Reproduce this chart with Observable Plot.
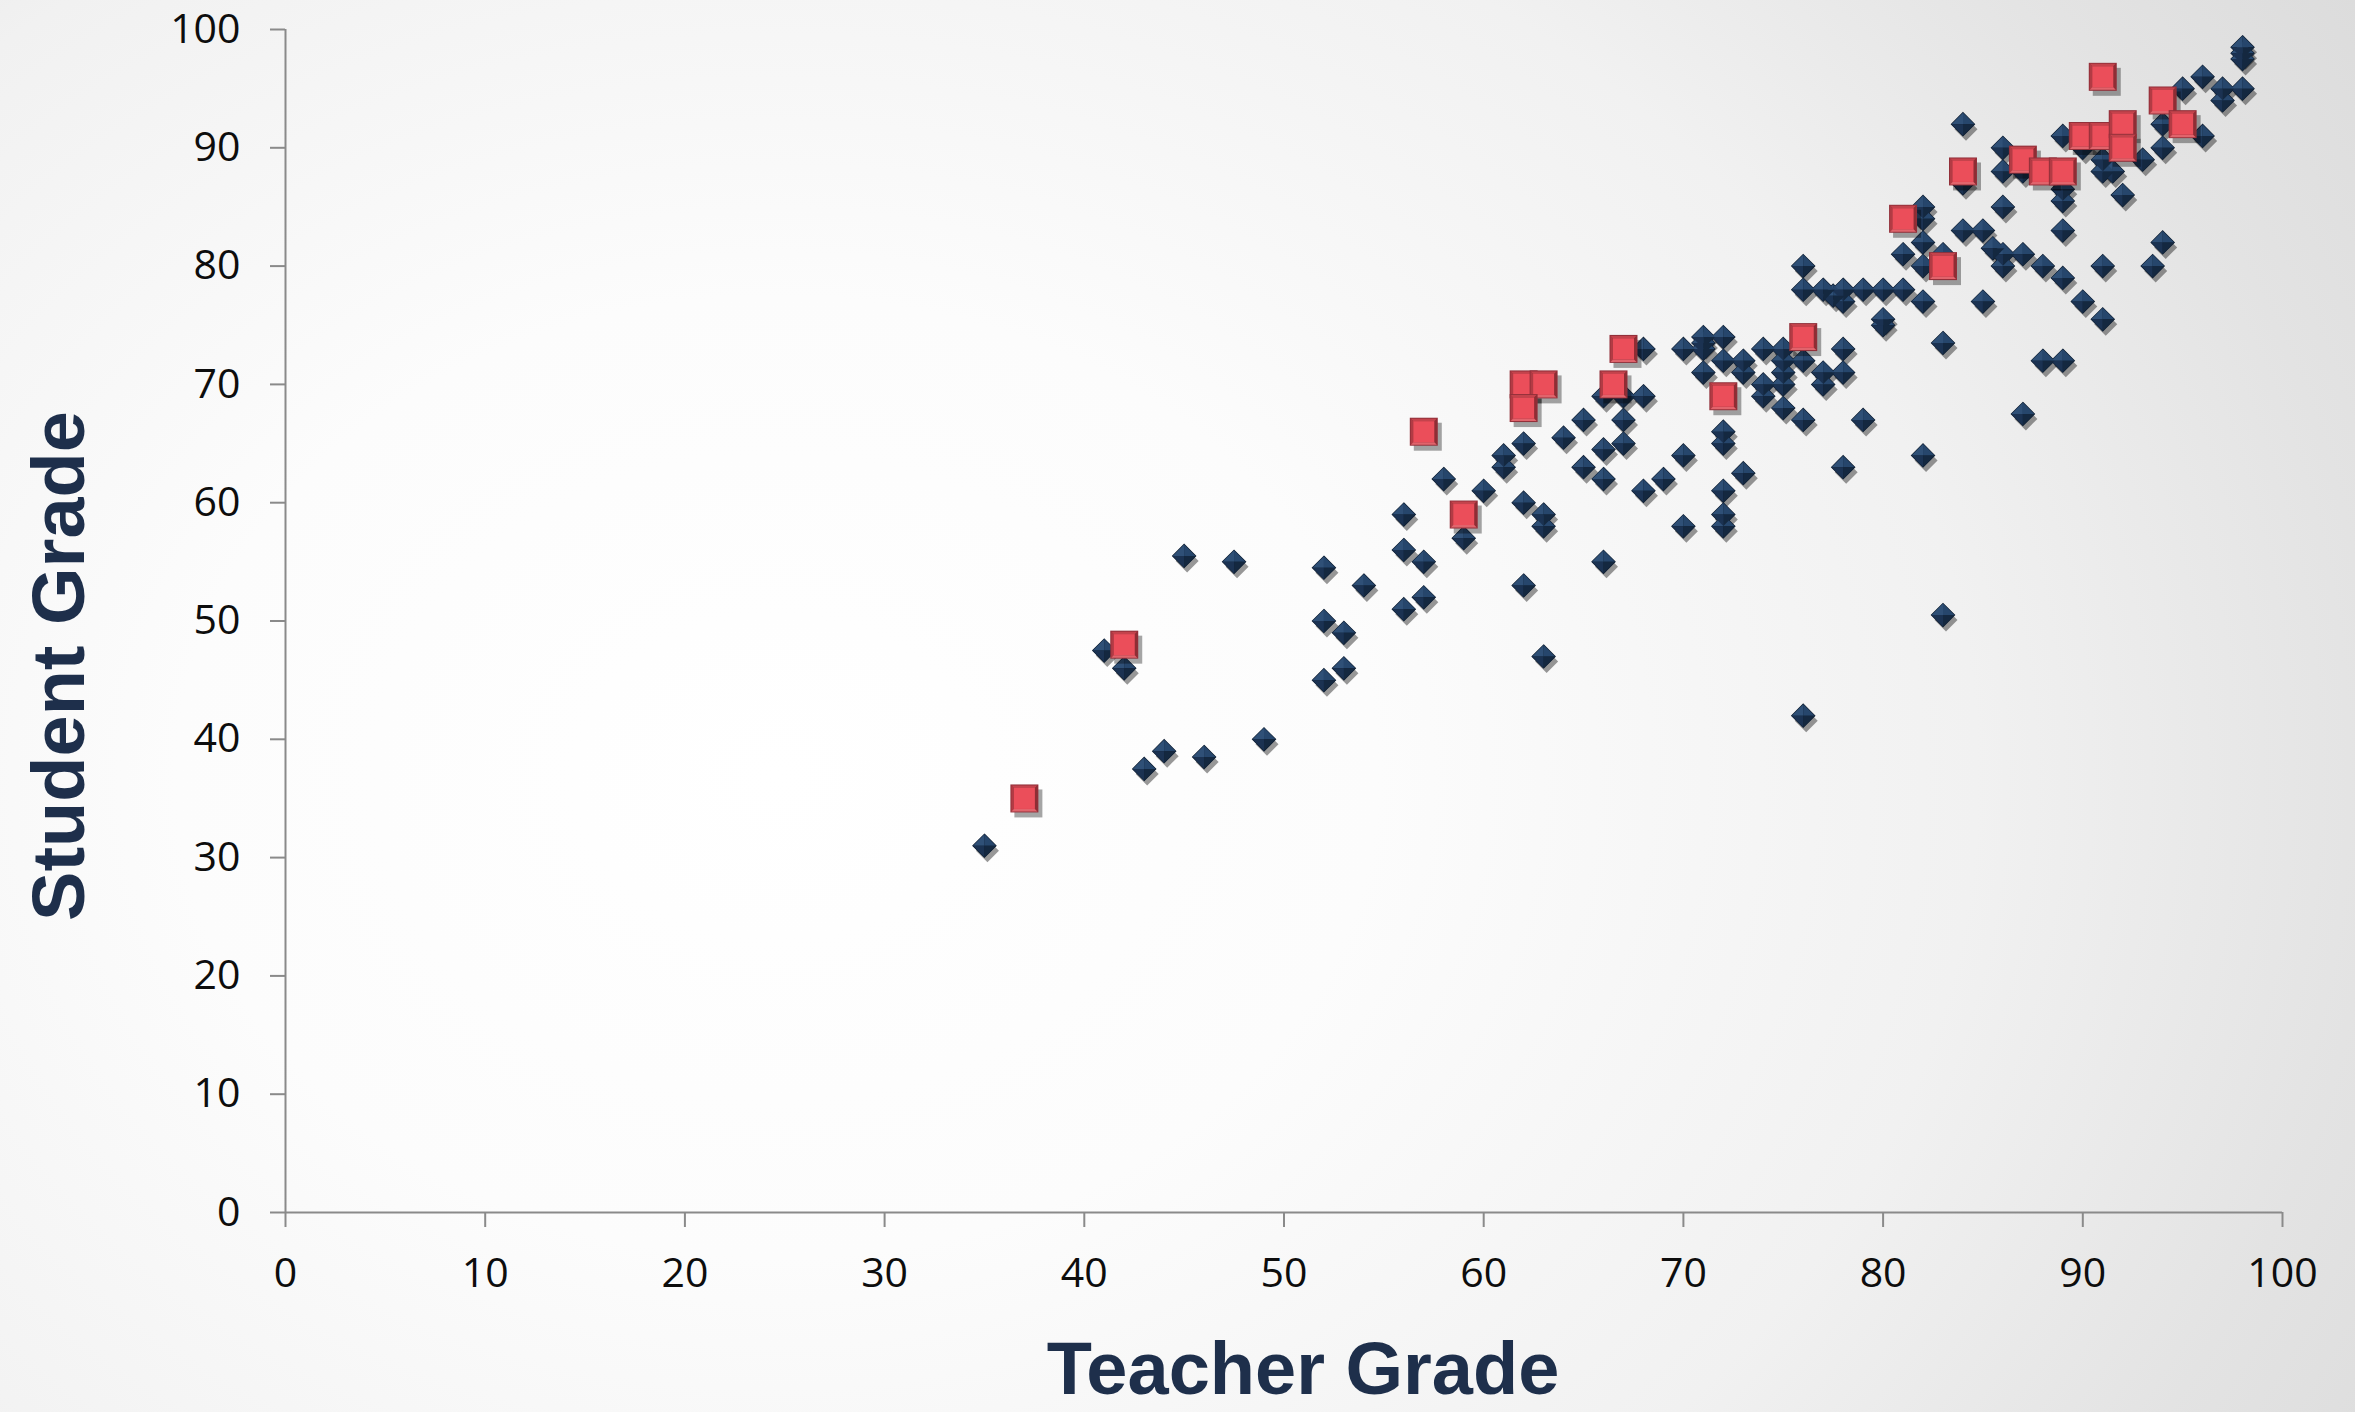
<!DOCTYPE html>
<html>
<head>
<meta charset="utf-8">
<script src="https://cdn.jsdelivr.net/npm/d3@7"></script>
<script src="https://cdn.jsdelivr.net/npm/@observablehq/plot@0.6"></script>
<style>
html, body { margin: 0; padding: 0; }
body {
  width: 2355px; height: 1412px; overflow: hidden;
  background: radial-gradient(2000px 1600px at 777px 777px, #ffffff 0%, #fcfcfc 30%, #f1f1f1 60%, #e3e3e3 80%, #d8d8d8 100%);
}
#chart { position: absolute; left: 0; top: 0; }
</style>
</head>
<body>
<div id="chart"></div>
<script>
// Teacher vs student grades – dark diamonds (all students)
const teacherBlue = [
  35, 41, 42, 43, 44, 45, 46, 47.5, 49,
  52, 52, 52, 53, 53, 54, 56, 56, 56, 57, 57, 58, 59,
  60, 61, 61, 62, 62, 62, 63, 63, 63, 64, 65, 65,
  66, 66, 66, 66, 67, 67, 67, 68, 68, 68, 69,
  70, 70, 70, 71, 71, 71, 71,
  72, 72, 72, 72, 72, 72, 72, 73, 73, 73,
  74, 74, 74, 75, 75, 75, 75, 75,
  76, 76, 76, 76, 76, 77, 77.5, 77, 77,
  78, 78, 78, 78, 78, 79, 79, 80, 80, 80, 81, 81,
  82, 82, 82, 82, 82, 82, 83, 83, 83,
  84, 84, 84, 85, 85, 85.5, 86, 86, 86, 86, 86,
  87, 87, 87, 88, 88, 89, 89, 89, 89, 89, 89,
  90, 90, 91, 91, 91.5, 91, 91, 92, 93, 93.5,
  94, 94, 94, 95, 96, 96, 97, 97, 98, 98, 98, 98
];
const studentBlue = [
  31, 47.5, 46, 37.5, 39, 55.5, 38.5, 55, 40,
  54.5, 50, 45, 49, 46, 53, 59, 56, 51, 55, 52, 62, 57,
  61, 64, 63, 65, 60, 53, 59, 58, 47, 65.5, 67, 63,
  69, 64.5, 62, 55, 69, 67, 65, 73, 69, 61, 62,
  73, 64, 58, 74, 73.5, 73, 71,
  74, 72, 66, 65, 61, 59, 58, 72, 71, 62.5,
  73, 70, 69, 73, 72, 71, 70, 68,
  80, 78, 72, 67, 42, 78, 77.5, 71, 70,
  78, 77, 73, 71, 63, 78, 67, 78, 75.5, 75, 78, 81,
  85, 84, 82, 80, 77, 64, 81, 73.5, 50.5,
  92, 87, 83, 83, 77, 81.5, 90, 88, 85, 81, 80,
  88, 81, 67.5, 80, 72, 91, 86.5, 85.5, 83, 79, 72,
  90, 77, 89, 88, 88, 80, 75.5, 86, 89, 80,
  92, 90, 82, 95, 96, 91, 95, 94, 98.5, 98, 97.5, 95
];
// Highlighted students – red squares
const teacherRed = [37, 42, 57, 59, 62, 63, 62, 66.5, 67, 72, 76, 81, 83, 84, 87, 88, 89, 90, 91, 91, 92, 92, 94, 95];
const studentRed = [35, 48, 66, 59, 70, 70, 68, 70, 73, 69, 74, 84, 80, 88, 89, 88, 88, 91, 91, 96, 92, 90, 94, 92];

const xTicks = [0, 10, 20, 30, 40, 50, 60, 70, 80, 90, 100];
const yTicks = [0, 10, 20, 30, 40, 50, 60, 70, 80, 90, 100];
const xTitle = "Teacher Grade";
const yTitle = "Student Grade";

const blue = teacherBlue.map((t, i) => ({teacher: t, student: studentBlue[i]}));
const red = teacherRed.map((t, i) => ({teacher: t, student: studentRed[i]}));

function poly(pts) {
  return {
    draw(ctx) {
      ctx.moveTo(pts[0][0], pts[0][1]);
      for (let i = 1; i < pts.length; ++i) ctx.lineTo(pts[i][0], pts[i][1]);
      ctx.closePath();
    }
  };
}
const h = 11.5;
const diamondFull = poly([[0, -h], [h, 0], [0, h], [-h, 0]]);
const facetTL = poly([[0, -h], [0, 0], [-h, 0]]);
const facetTR = poly([[0, -h], [h, 0], [0, 0]]);
const facetBL = poly([[-h, 0], [0, 0], [0, h]]);
const facetBR = poly([[h, 0], [0, h], [0, 0]]);

const so = 14, sb = 13, si = 10.5;
const sqOuter = poly([[-so, -so], [so, -so], [so, so], [-so, so]]);
const bevTop = poly([[-sb, -sb], [sb, -sb], [si, -si], [-si, -si]]);
const bevLeft = poly([[-sb, -sb], [-si, -si], [-si, si], [-sb, sb]]);
const bevRight = poly([[sb, -sb], [sb, sb], [si, si], [si, -si]]);
const bevBottom = poly([[-sb, sb], [-si, si], [si, si], [sb, sb]]);
const sqFace = poly([[-si, -si], [si, -si], [si, si], [-si, si]]);

const pos = {x: "teacher", y: "student", r: 6, stroke: "none"};

// each red square is drawn completely before the next one, so overlapping squares keep their edges
const redMarks = red.flatMap(d => [
  Plot.dot([d], {...pos, symbol: sqOuter, fill: "#000", fillOpacity: 0.35, dx: 4, dy: 5, ariaLabel: "shadow"}),
  Plot.dot([d], {...pos, symbol: sqOuter, fill: "#93303a"}),
  Plot.dot([d], {...pos, symbol: bevTop, fill: "#c4434c"}),
  Plot.dot([d], {...pos, symbol: bevLeft, fill: "#b23b44"}),
  Plot.dot([d], {...pos, symbol: bevRight, fill: "#8e2d34"}),
  Plot.dot([d], {...pos, symbol: bevBottom, fill: "#e1646c"}),
  Plot.dot([d], {...pos, symbol: sqFace, fill: "#eb4e5a"})
]);

const chart = Plot.plot({
  width: 2355,
  height: 1412,
  marginLeft: 285,
  marginRight: 73,
  marginTop: 29,
  marginBottom: 200,
  style: {background: "transparent", fontFamily: "'Open Sans', sans-serif", overflow: "visible"},
  x: {domain: [0, 100]},
  y: {domain: [0, 100]},
  marks: [
    Plot.ruleY([0], {stroke: "#8a8a8a", strokeWidth: 2}),
    Plot.ruleX([0], {stroke: "#8a8a8a", strokeWidth: 2}),
    Plot.axisX({ticks: xTicks, tickSize: 15, tickPadding: 30, stroke: "#8a8a8a", strokeWidth: 2, fill: "#0d0d0d", fontSize: 41, label: null, tickFormat: d => String(d)}),
    Plot.axisY({ticks: yTicks, tickSize: 15, tickPadding: 30, stroke: "#8a8a8a", strokeWidth: 2, fill: "#0d0d0d", fontSize: 41, label: null, tickFormat: d => String(d)}),
    // shadows
    Plot.dot(blue, {...pos, symbol: diamondFull, fill: "#000", fillOpacity: 0.4, dx: 3, dy: 5, ariaLabel: "shadow"}),
    // diamonds
    Plot.dot(blue, {...pos, symbol: diamondFull, fill: "#0f1e31", stroke: "#0f1e31", strokeWidth: 1.2}),
    Plot.dot(blue, {...pos, symbol: facetTL, fill: "#2f5077"}),
    Plot.dot(blue, {...pos, symbol: facetTR, fill: "#26466c"}),
    Plot.dot(blue, {...pos, symbol: facetBL, fill: "#1b3252"}),
    Plot.dot(blue, {...pos, symbol: facetBR, fill: "#142840"}),
    // red squares
    ...redMarks,
    // axis titles
    Plot.text([xTitle], {frameAnchor: "bottom", textAnchor: "middle", lineAnchor: "middle", dx: 19, dy: 158,
      fontSize: 74, fontWeight: "bold", fontFamily: "'Liberation Sans', Arial, sans-serif", fill: "#1e2f4b"}),
    Plot.text([yTitle], {frameAnchor: "left", textAnchor: "middle", lineAnchor: "middle", rotate: -90, dx: -225, dy: 45,
      fontSize: 74, fontWeight: "bold", fontFamily: "'Liberation Sans', Arial, sans-serif", fill: "#1e2f4b"})
  ]
});

// soften shadows
const defs = d3.select(chart).insert("defs", ":first-child");
defs.append("filter").attr("id", "softShadow").attr("x", "-50%").attr("y", "-50%").attr("width", "200%").attr("height", "200%")
  .append("feGaussianBlur").attr("stdDeviation", 2.5);
d3.select(chart).selectAll('g[aria-label="shadow"]').attr("filter", "url(#softShadow)");

document.getElementById("chart").appendChild(chart);
</script>
</body>
</html>
